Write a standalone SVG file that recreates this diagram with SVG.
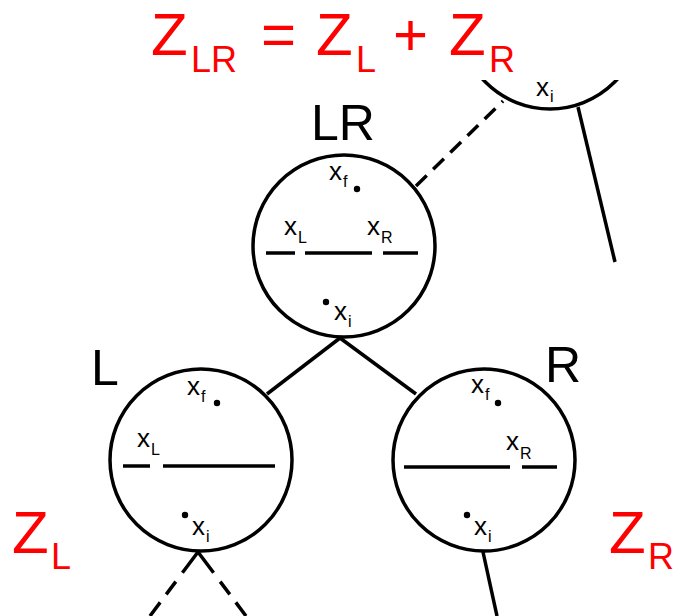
<svg xmlns="http://www.w3.org/2000/svg" width="678" height="616" viewBox="0 0 678 616">
<style>
.c{fill:none;stroke:#000;stroke-width:3.5}
.l{stroke:#000;stroke-width:3.5;fill:none}
.d{stroke:#000;stroke-width:3.5;fill:none;stroke-dasharray:15 9}
.h{stroke:#000;stroke-width:3.5}
.x{font-family:"Liberation Sans",Arial,sans-serif;font-size:26px;fill:#000}
.s{font-family:"Liberation Sans",Arial,sans-serif;font-size:16px;fill:#000}
.n{font-family:"Liberation Sans",Arial,sans-serif;font-size:50px;fill:#000}
.zb{font-family:"Liberation Sans",Arial,sans-serif;font-size:60px;fill:#f00}
.zs{font-family:"Liberation Sans",Arial,sans-serif;font-size:36px;fill:#f00}
</style>
<defs>
<clipPath id="top"><rect x="0" y="80" width="678" height="100"/></clipPath>
</defs>
<g id="title">
<text class="zb" x="151" y="55">Z</text><text class="zs" x="191" y="72">LR</text>
<text class="zb" x="261" y="55">=</text>
<text class="zb" x="316" y="55">Z</text><text class="zs" x="356" y="72">L</text>
<text class="zb" x="393" y="55">+</text>
<text class="zb" x="449" y="55">Z</text><text class="zs" x="489" y="72">R</text>
</g>
<g id="connectors">
<line class="d" x1="416" y1="186" x2="503" y2="101"/>
<line class="l" x1="578" y1="107" x2="615" y2="262"/>
<line class="l" x1="340" y1="338" x2="267" y2="394"/>
<line class="l" x1="340" y1="338" x2="416" y2="394"/>
<line class="d" x1="198" y1="552" x2="150" y2="616" style="stroke-dasharray:26 11 16 10"/>
<line class="d" x1="198" y1="552" x2="246" y2="616" style="stroke-dasharray:26 11 16 10"/>
<line class="l" x1="483" y1="552" x2="497" y2="616"/>
</g>
<g id="parent">
<circle class="c" cx="550" cy="18" r="91" clip-path="url(#top)"/>
<text class="x" x="536" y="96">x</text><text class="s" x="550" y="102">i</text>
</g>
<g id="LR">
<text class="n" x="311" y="140">LR</text>
<circle class="c" cx="344" cy="246" r="91"/>
<text class="x" x="329" y="180">x</text><text class="s" x="343" y="187">f</text>
<circle cx="357" cy="189" r="3.2"/>
<text class="x" x="284" y="235">x</text><text class="s" x="298" y="243">L</text>
<text class="x" x="367" y="235">x</text><text class="s" x="381" y="243">R</text>
<line class="h" x1="266" y1="253" x2="295" y2="253"/>
<line class="h" x1="305" y1="253" x2="372" y2="253"/>
<line class="h" x1="383" y1="253" x2="418" y2="253"/>
<circle cx="326" cy="302" r="3.2"/>
<text class="x" x="334" y="320">x</text><text class="s" x="348" y="327">i</text>
</g>
<g id="L">
<text class="n" x="91" y="385">L</text>
<circle class="c" cx="201" cy="460" r="91"/>
<text class="x" x="187" y="395">x</text><text class="s" x="201" y="402">f</text>
<circle cx="217" cy="403" r="3.2"/>
<text class="x" x="137" y="447">x</text><text class="s" x="151" y="455">L</text>
<line class="h" x1="123" y1="466" x2="150" y2="466"/>
<line class="h" x1="163" y1="466" x2="275" y2="466"/>
<circle cx="185" cy="515" r="3.2"/>
<text class="x" x="192" y="535">x</text><text class="s" x="206" y="542">i</text>
</g>
<g id="R">
<text class="n" x="545" y="382">R</text>
<circle class="c" cx="484" cy="460" r="91"/>
<text class="x" x="471" y="393">x</text><text class="s" x="485" y="400">f</text>
<circle cx="498" cy="403" r="3.2"/>
<text class="x" x="506" y="450">x</text><text class="s" x="520" y="459">R</text>
<line class="h" x1="404" y1="467" x2="510" y2="467"/>
<line class="h" x1="522" y1="467" x2="557" y2="467"/>
<circle cx="467" cy="515" r="3.2"/>
<text class="x" x="474" y="535">x</text><text class="s" x="488" y="542">i</text>
</g>
<g id="ZL">
<text class="zb" x="12" y="553">Z</text><text class="zs" x="51" y="569">L</text>
</g>
<g id="ZR">
<text class="zb" x="609" y="553">Z</text><text class="zs" x="648" y="569">R</text>
</g>
</svg>
